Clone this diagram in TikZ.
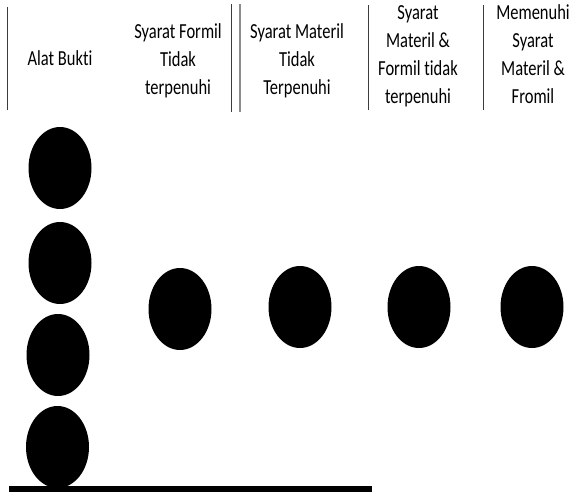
\documentclass[tikz,border=0pt]{standalone}
\usepackage{fontspec}
\setmainfont[Ligatures={NoCommon}]{Carlito}
\usetikzlibrary{shapes.geometric}
\definecolor{ink}{HTML}{000000}
\definecolor{rulegray}{HTML}{3C3C3C}
\definecolor{rulelight}{HTML}{8C8C8C}
\newcommand{\tallhead}[1]{\scalebox{1}[1.3]{%
  \begin{tabular}{@{}c@{}}#1\end{tabular}}}
\tikzset{
  headcell/.style={align=center,inner sep=0pt,
                   font=\fontsize{16.5}{21.5}\selectfont},
  dot/.style={ellipse,fill=ink,draw=none,inner sep=0pt,
              minimum width=63pt,minimum height=82pt},
  sepline/.style={draw=rulegray,line width=1pt},
  seplight/.style={draw=rulelight,line width=1.2pt}
}
\begin{document}
\begin{tikzpicture}[x=1pt,y=-1pt]
    \path[use as bounding box,fill=white] (0,0) rectangle (575,493);
    % column separators
    \draw[sepline] (7,7) -- (7,110);
    \draw[sepline] (231.5,4) -- (231.5,112);
    \draw[seplight] (240,4) -- (240,112);
    \draw[sepline] (368,5) -- (368,110);
    \draw[sepline] (483,5) -- (483,110);
    % headings
    \node[headcell] (hbukti) at (60,60) {\tallhead{Alat Bukti}};
    \node[headcell] (hformil) at (178,61)
      {\tallhead{Syarat Formil\\Tidak\\terpenuhi}};
    \node[headcell] (hmateril) at (297,61)
      {\tallhead{Syarat Materil\\Tidak\\Terpenuhi}};
    \node[headcell] (hkedua) at (418,56)
      {\tallhead{Syarat\\Materil \&\\Formil tidak\\terpenuhi}};
    \node[headcell] (hpenuhi) at (533,56)
      {\tallhead{Memenuhi\\Syarat\\Materil \&\\Fromil}};
    % stacked evidence
    \node[dot] (bukti1) at (60,168) {};
    \node[dot] (bukti2) at (60,263) {};
    \node[dot] (bukti3) at (58,355) {};
    \node[dot] (bukti4) at (57.5,447) {};
    % one per column
    \node[dot] (formil) at (180,309) {};
    \node[dot] (materil) at (300,307) {};
    \node[dot] (kedua) at (419,307) {};
    \node[dot] (penuhi) at (532,307) {};
    % base line
    \fill[ink] (9,486) rectangle (372,492);
  \end{tikzpicture}
\end{document}
